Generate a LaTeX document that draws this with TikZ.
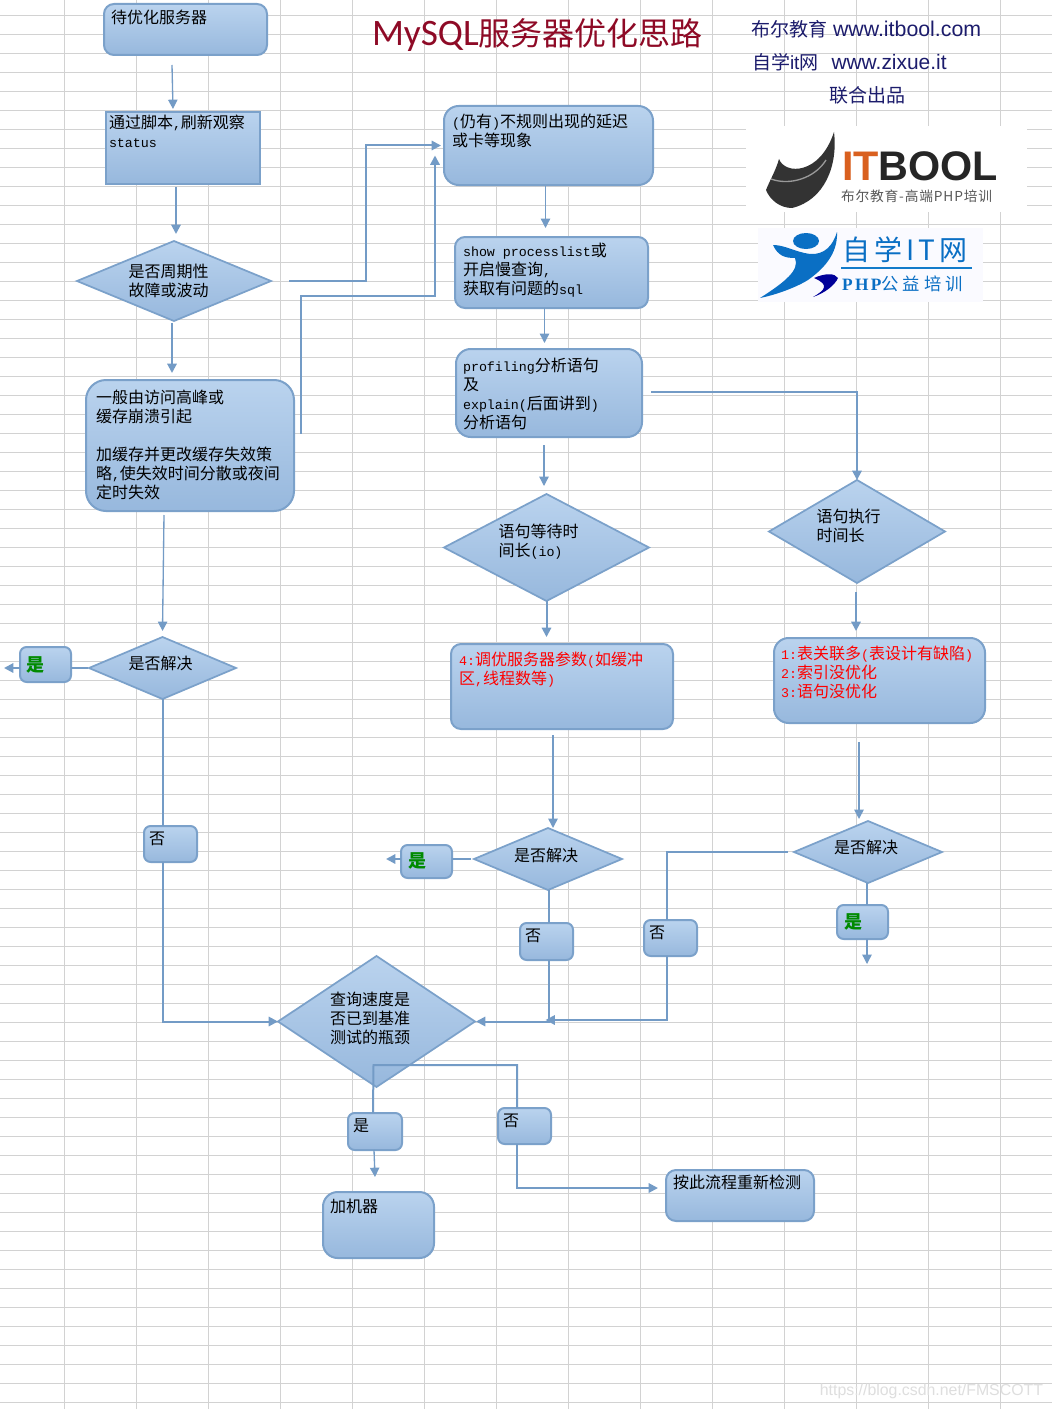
\documentclass[tikz,border=0pt]{standalone}
\usepackage{fontspec}
\usetikzlibrary{shapes.geometric,arrows.meta,calc}
\setmainfont{Noto Sans CJK SC}
\newfontfamily\lat[Scale=0.833]{Liberation Mono}
\newfontfamily\web{Liberation Sans}
\newfontfamily\calf{Carlito}
\newfontfamily\ser[LetterSpace=14]{Liberation Serif}
\newcommand{\lt}[1]{{\lat #1}}
\newdimen\px \px=0.75pt
\newcommand{\tb}[5]{\parbox[c][#2\px][t]{#1\px}{\leftskip=#3\px\vspace*{#4\px}#5}}
\newcommand{\dtx}[3]{\makebox[0pt][c]{\hspace*{#1\px}\raisebox{#2\px}[0pt][0pt]{\begin{tabular}[c]{@{}l@{}}#3\end{tabular}}}}
\newcommand{\yes}{\textcolor{grn}{\fontsize{13.5pt}{14pt}\selectfont\bfseries 是}}
\definecolor{boxtop}{HTML}{BAD3EE}
\definecolor{boxbot}{HTML}{97B8DD}
\definecolor{boxedge}{HTML}{7BA1CA}
\definecolor{conn}{HTML}{739BC6}
\definecolor{gridc}{HTML}{D2D2D2}
\definecolor{navy}{HTML}{1C1C6C}
\definecolor{ttl}{HTML}{8E0A26}
\definecolor{grn}{HTML}{008A00}
\definecolor{lgo}{HTML}{D9601F}
\definecolor{lgb}{HTML}{0A6FC4}
\tikzset{
 x=0.75pt,y=-0.75pt,
 every node/.style={inner sep=0pt,outer sep=0pt,font=\fontsize{12pt}{14.25pt}\selectfont},
 fl/.style={draw=boxedge,line width=1.5pt,top color=boxtop,bottom color=boxbot,shading angle=0},
 rbox/.style={fl,rounded corners=7.5pt},
 rboxl/.style={fl,rounded corners=15pt},
 sbox/.style={fl,line width=1.9pt},
 dia/.style={fl,diamond,line width=1.3pt},
 cn/.style={draw=conn,line width=1.5pt,-{Triangle[length=7pt,width=7pt]}},
 cp/.style={draw=conn,line width=1.5pt},
}
\begin{document}
\begin{tikzpicture}
\useasboundingbox (0,0) rectangle (1052,1409);
\fill[white] (0,0) rectangle (1052,1409);
\foreach \yy in {0,...,73}{\draw[gridc,line width=0.75pt] (0,15.5+19*\yy) -- (1052,15.5+19*\yy);}
\foreach \xx in {0,...,13}{\draw[gridc,line width=0.75pt] (64.5+72*\xx,0) -- (64.5+72*\xx,1409);}
% logos
\fill[white] (746,126) rectangle (1027,212);
\fill[white!98!blue] (758,228) rectangle (983,302);
\fill[black!80] (834,132) .. controls (838,165) and (825,200) .. (792,208) .. controls (780,208) and (770,200) .. (766,190) .. controls (770,180) and (776,170) .. (779,159) .. controls (785,175) and (820,175) .. (834,132) -- cycle;
\draw[black!40,line width=1pt] (771,179) .. controls (790,186) and (815,178) .. (826,160);
\node[anchor=west] (lga) at (842,166) {\web\bfseries\fontsize{31pt}{31pt}\selectfont\textcolor{lgo}{IT}\textcolor{black!85}{BOOL}};
\node[anchor=west] (lgb1) at (841,196) {\textcolor{black!65}{\fontsize{10.3pt}{12pt}\selectfont\addfontfeature{LetterSpace=6}布尔教育-高端PHP培训}};
\fill[lgb] (806,241) ellipse (13 and 8);
\fill[lgb] (760,298) .. controls (785,282) and (800,270) .. (795,258) .. controls (785,258) and (778,256) .. (773,245) .. controls (785,245) and (795,252) .. (810,254) .. controls (825,255) and (833,245) .. (837,232) .. controls (838,255) and (822,270) .. (808,280) .. controls (795,288) and (775,295) .. (760,298) -- cycle;
\fill[blue!60!black] (813,297) .. controls (825,290) and (830,285) .. (814,278) .. controls (825,273) and (835,273) .. (838,278) .. controls (835,285) and (825,293) .. (813,297) -- cycle;
\node[anchor=west] (lgc) at (842,250) {\textcolor{lgb}{\fontsize{21pt}{22pt}\selectfont\addfontfeature{LetterSpace=15}自学IT网}};
\draw[cyan!60!blue,line width=0.9pt] (841,268) -- (972,268);
\node[anchor=west] (lgd) at (842,284) {\textcolor{lgb}{\fontsize{13pt}{14pt}\selectfont{\ser\bfseries PHP}\addfontfeature{LetterSpace=23}公益培训}};
% heading
\node[anchor=west] (title) at (372,35) {\textcolor{ttl}{\fontsize{24pt}{26pt}\selectfont{\calf\fontsize{28pt}{28pt}\selectfont MySQL}服务器优化思路}};
\node[anchor=west] (h1) at (751,29) {\textcolor{navy}{\fontsize{14.25pt}{16pt}\selectfont 布尔教育\hspace{6\px}{\web\fontsize{16pt}{16pt}\selectfont www.itbool.com}}};
\node[anchor=west] (h2) at (752,62) {\textcolor{navy}{\fontsize{14.25pt}{16pt}\selectfont 自学{\web it}网\hspace{13\px}{\web\fontsize{15.7pt}{16pt}\selectfont www.zixue.it}}};
\node[anchor=west] (h3) at (829,95) {\textcolor{navy}{\fontsize{14.25pt}{16pt}\selectfont 联合出品}};
\node[anchor=east] (wm) at (1043,1391) {\textcolor{black!13}{\web\fontsize{11.9pt}{14pt}\selectfont https://blog.csdn.net/FMSCOTT}};
% boxes
\node[rbox] (n1) at (185.5,29.5) {\tb{163}{51}{7}{6}{待优化服务器}};
\node[sbox] (n2) at (183,148) {\tb{154}{72}{3}{3}{通过脚本\lt{,}刷新观察\\\lt{status}}};
\node[rbox,rounded corners=11pt] (n3) at (548.5,145.5) {\tb{209}{79}{8}{8}{\lt{(}仍有\lt{)}不规则出现的延迟\\或卡等现象}};
\node[rbox] (n4) at (551.5,272.5) {\tb{193}{71}{8}{6}{\lt{show processlist}或\\开启慢查询\lt{,}\\获取有问题的\lt{sql}}};
\node[rbox,rounded corners=11pt] (n5) at (549,393) {\tb{186}{88}{7}{9}{\lt{profiling}分析语句\\及\\\lt{explain(}后面讲到\lt{)}\\分析语句}};
\node[rboxl] (n6) at (190,445.5) {\tb{208}{131}{10}{10}{一般由访问高峰或\\缓存崩溃引起\\\\加缓存并更改缓存失效策\\略\lt{,}使失效时间分散或夜间\\定时失效}};
\node[rbox] (n7) at (562,686.5) {\tb{222}{85}{8}{8}{\textcolor{red}{\lt{4:}调优服务器参数\lt{(}如缓冲}\\\textcolor{red}{区\lt{,}线程数等\lt{)}}}};
\node[rbox,rounded corners=11pt] (n8) at (879.5,680.5) {\tb{211}{85}{7}{8}{\textcolor{red}{\lt{1:}表关联多\lt{(}表设计有缺陷\lt{)}}\\\textcolor{red}{\lt{2:}索引没优化}\\\textcolor{red}{\lt{3:}语句没优化}}};
\node[rbox,rounded corners=11pt] (n9) at (378.5,1225) {\tb{111}{66}{7}{7}{加机器}};
\node[rbox] (n10) at (740,1195.5) {\tb{148}{51}{7}{5}{按此流程重新检测}};
\node[rbox,rounded corners=5pt] (y1) at (45.5,664.5) {\tb{51}{35}{7}{10}{\yes}};
\node[rbox,rounded corners=5pt] (y2) at (426.5,861.5) {\tb{51}{33}{7}{8}{\yes}};
\node[rbox,rounded corners=5pt] (y3) at (862.5,922) {\tb{51}{34}{7}{9}{\yes}};
\node[rbox,rounded corners=5pt] (y4) at (375,1131.5) {\tb{54}{37}{5}{6}{是}};
\node[rbox,rounded corners=5pt] (no1) at (170.5,844) {\tb{53}{36}{5}{6}{否}};
\node[rbox,rounded corners=5pt] (no2) at (546.5,941.5) {\tb{53}{37}{5}{6}{否}};
\node[rbox,rounded corners=5pt] (no3) at (670.5,938) {\tb{53}{36}{5}{6}{否}};
\node[rbox,rounded corners=5pt] (no4) at (524.5,1126) {\tb{53}{36}{5}{6}{否}};
% diamonds
\node[dia,aspect=2.425,minimum width=194\px,minimum height=80\px] (d1) at (174,281) {\dtx{-11}{-6}{是否周期性\\故障或波动}};
\node[dia,aspect=2.371,minimum width=147\px,minimum height=62\px] (d2) at (162.5,668) {\dtx{-4}{-2}{是否解决}};
\node[dia,aspect=1.916,minimum width=205\px,minimum height=107\px] (d3) at (546.5,547.5) {\dtx{-16}{0}{语句等待时\\间长\lt{(io)}}};
\node[dia,aspect=1.709,minimum width=176\px,minimum height=103\px] (d4) at (857,531.5) {\dtx{-17}{-1}{语句执行\\时间长}};
\node[dia,aspect=2.387,minimum width=148\px,minimum height=62\px] (d5) at (548,859) {\dtx{-4}{-3}{是否解决}};
\node[dia,aspect=2.387,minimum width=148\px,minimum height=62\px] (d6) at (868,852) {\dtx{-4}{-2}{是否解决}};
\node[dia,aspect=1.504,minimum width=197\px,minimum height=131\px] (d7) at (376.5,1021.5) {\dtx{-13}{-3}{查询速度是\\否已到基准\\测试的瓶颈}};
% connectors
\draw[cn,line width=1pt] ([shift={(-13.5,10)}]n1.south) -- ([shift={(-10,-3)}]n2.north);
\draw[cn] ([shift={(-7,3)}]n2.south) -- ([shift={(2,-7)}]d1.north);
\draw[cn] ([shift={(18,0)}]d1.east) -- ([shift={(-78,135.5)}]n3.west) -- ([shift={(-78,0)}]n3.west) -- ([shift={(-3,0)}]n3.west);
\draw[cn] ([shift={(7,-12)}]n6.east) -- ([shift={(7,-150)}]n6.east) -- ([shift={(-9,150)}]n3.west) -- ([shift={(-9,10)}]n3.west);
\draw[cn] ([shift={(-2,2)}]d1.south) -- ([shift={(-18,-7)}]n6.north);
\draw[cn,line width=1pt] ([shift={(-3,1)}]n3.south) -- ([shift={(-3,-9)}]n4.north -| n3.south);
\draw[cn,line width=1pt] ([shift={(-7,0)}]n4.south) -- ([shift={(-4.5,-6)}]n5.north);
\draw[cn,line width=1pt] ([shift={(-5,8)}]n5.south) -- ([shift={(-2.5,-8)}]d3.north);
\draw[cn] ([shift={(9,-1)}]n5.east) -| (d4.north);
\draw[cn] (d3.south) -- ([shift={(-15.5,-7)}]n7.north);
\draw[cn] ([shift={(-1,9)}]d4.south) -- ([shift={(-23.5,-7)}]n8.north);
\draw[cn,line width=1pt] ([shift={(-26,4)}]n6.south) -- ([shift={(0,-6)}]d2.north);
\draw[cp] ([shift={(-1,0)}]d2.west) -- ([shift={(0,3.5)}]y1.east);
\draw[cn] ([shift={(0,3.5)}]y1.west) -- ([shift={(-16,3.5)}]y1.west);
\draw[cp] ([shift={(0.5,0)}]d2.south) -- ([shift={(-7.5,0)}]no1.north);
\draw[cn] ([shift={(-7.5,0)}]no1.south) |- (d7.west);
\draw[cn,line width=1.2pt] ([shift={(-9,6)}]n7.south) -- ([shift={(5,0)}]d5.north);
\draw[cp] ([shift={(-3,0)}]d5.west) -- ([shift={(0,-2.5)}]y2.east);
\draw[cn] ([shift={(0,-2.5)}]y2.west) -- ([shift={(-15,-2.5)}]y2.west);
\draw[cp] ([shift={(1,0)}]d5.south) -- ([shift={(2.5,0)}]no2.north);
\draw[cn] ([shift={(2.5,0)}]no2.south) |- ([shift={(1,0)}]d7.east);
\draw[cn,line width=1.2pt] ([shift={(-20.5,19)}]n8.south) -- ([shift={(-9,-2)}]d6.north);
\draw[cp] ([shift={(-6,0)}]d6.west) -| ([shift={(-3.5,0)}]no3.north);
\draw[cn] ([shift={(-3.5,0)}]no3.south) |- ([shift={(70.5,-1.5)}]d7.east);
\draw[cp] ([shift={(-1,0)}]d6.south) -- ([shift={(4.5,0)}]y3.north);
\draw[cn,line width=1pt] ([shift={(4.5,0)}]y3.south) -- ([shift={(4.5,25)}]y3.south);
\draw[cp] ([shift={(-7.5,0)}]no4.north) |- ([shift={(-3,-22)}]d7.south) -- ([shift={(-2,0)}]y4.north);
\draw[cn,line width=1pt] ([shift={(-1,0)}]y4.south) -- ([shift={(0,27)}]y4.south);
\draw[cn] ([shift={(-7.5,0)}]no4.south) |- ([shift={(-8,-7.5)}]n10.west);
\end{tikzpicture}
\end{document}
